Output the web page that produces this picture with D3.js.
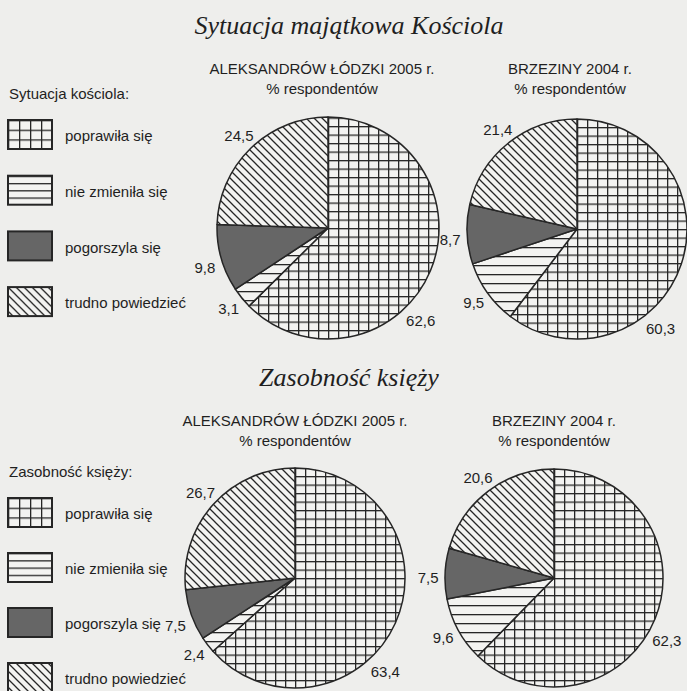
<!DOCTYPE html>
<html>
<head>
<meta charset="utf-8">
<script src="https://cdn.jsdelivr.net/npm/d3@7"></script>
<style>
  html, body { margin: 0; padding: 0; background: #eeeeec; }
  svg { display: block; }
  text { fill: #1f1f1f; font-family: "Liberation Sans", Arial, sans-serif; font-size: 15px; }
  .title { font-family: "Liberation Serif", "Times New Roman", serif; font-style: italic; font-size: 26px; }
</style>
</head>
<body>
<svg id="chart"></svg>
<script>
// data
const categories = ["poprawiła się", "nie zmieniła się", "pogorszyla się", "trudno powiedzieć"];
const sytuacjaAleksandrow = [62.6, 3.1, 9.8, 24.5];
const sytuacjaBrzeziny = [60.3, 9.5, 8.7, 21.4];
const zasobnoscAleksandrow = [63.4, 2.4, 7.5, 26.7];
const zasobnoscBrzeziny = [62.3, 9.6, 7.5, 20.6];
const sectionTitles = ["Sytuacja majątkowa Kościola", "Zasobność księży"];
const legendTitles = ["Sytuacja kościola:", "Zasobność księży:"];
const placeNames = ["ALEKSANDRÓW ŁÓDZKI 2005 r.", "BRZEZINY 2004 r."];
const unitLabel = "% respondentów";

const width = 687, height = 691;
const ink = "#262626", paper = "#f3f3f1", dark = "#666666";

const svg = d3.select("#chart").attr("width", width).attr("height", height);
svg.append("rect").attr("width", width).attr("height", height).attr("fill", "#eeeeec");

const defs = svg.append("defs");

// hatch patterns, one set for the pies and one for the legend boxes
function makePatterns(prefix, gw, gh, hs, ds) {
  const lw = 1.3;
  const grid = defs.append("pattern").attr("id", prefix + "grid")
    .attr("patternUnits", "userSpaceOnUse").attr("width", gw).attr("height", gh);
  grid.append("rect").attr("width", gw).attr("height", gh).attr("fill", paper);
  grid.append("rect").attr("width", lw).attr("height", gh).attr("fill", ink);
  grid.append("rect").attr("width", gw).attr("height", lw).attr("fill", ink);

  const hor = defs.append("pattern").attr("id", prefix + "hor")
    .attr("patternUnits", "userSpaceOnUse").attr("width", 10).attr("height", hs);
  hor.append("rect").attr("width", 10).attr("height", hs).attr("fill", paper);
  hor.append("rect").attr("width", 10).attr("height", lw).attr("fill", ink);

  const diag = defs.append("pattern").attr("id", prefix + "diag")
    .attr("patternUnits", "userSpaceOnUse").attr("width", ds).attr("height", ds);
  diag.append("rect").attr("width", ds).attr("height", ds).attr("fill", paper);
  diag.append("path")
    .attr("d", `M0,0L${ds},${ds}M${-ds / 4},${ds * 3 / 4}L${ds / 4},${ds * 5 / 4}M${ds * 3 / 4},${-ds / 4}L${ds * 5 / 4},${ds / 4}`)
    .attr("stroke", ink).attr("stroke-width", lw);
}
makePatterns("p-", 10, 8.5, 9, 8);
makePatterns("l-", 11, 29 / 3, 7.25, 8);

const fills = prefix => [`url(#${prefix}grid)`, `url(#${prefix}hor)`, dark, `url(#${prefix}diag)`];
const color = d3.scaleOrdinal().domain(categories).range(fills("p-"));
const legendColor = d3.scaleOrdinal().domain(categories).range(fills("l-"));

const fmt = v => d3.format(".1f")(v).replace(".", ",");

// section titles
svg.selectAll(".title").data(sectionTitles).enter().append("text")
  .attr("class", "title").attr("x", 349).attr("y", (d, i) => i ? 386 : 34)
  .attr("text-anchor", "middle").text(d => d);

// legends
legendTitles.forEach((t, s) => {
  const top = s ? 498 : 120, step = s ? 55 : 55.7;
  const lg = svg.append("g");
  lg.append("text").attr("x", 9).attr("y", top - 21).text(t);
  const item = lg.selectAll("g.item").data(categories).enter().append("g")
    .attr("class", "item")
    .attr("transform", (d, i) => `translate(8,${top + i * step})`);
  item.append("rect").attr("width", 44).attr("height", 29)
    .attr("fill", d => legendColor(d)).attr("stroke", ink).attr("stroke-width", 2);
  item.append("text").attr("x", 57).attr("y", 16).attr("dy", "0.35em").text(d => d);
});

// pies (mainDeg = where the big slice's value sits, clockwise from 12 o'clock)
const charts = [
  { values: sytuacjaAleksandrow, place: placeNames[0], cx: 328, cy: 228, r: 111, headX: 322, headY: 74, mainDeg: 135 },
  { values: sytuacjaBrzeziny, place: placeNames[1], cx: 577, cy: 229, r: 110, headX: 570, headY: 74, mainDeg: 140 },
  { values: zasobnoscAleksandrow, place: placeNames[0], cx: 295, cy: 578, r: 110, headX: 295, headY: 426, mainDeg: 136 },
  { values: zasobnoscBrzeziny, place: placeNames[1], cx: 554, cy: 578, r: 109, headX: 554, headY: 426, mainDeg: 119 }
];

const pie = d3.pie().sort(null).value(d => d.value);

charts.forEach(c => {
  svg.append("text").attr("x", c.headX).attr("y", c.headY).attr("text-anchor", "middle").text(c.place);
  svg.append("text").attr("x", c.headX).attr("y", c.headY + 20).attr("text-anchor", "middle").text(unitLabel);

  const rows = categories.map((k, i) => ({ key: k, value: c.values[i] }));
  const arcs = pie(rows);
  const arc = d3.arc().innerRadius(0).outerRadius(c.r);
  const g = svg.append("g").attr("transform", `translate(${c.cx},${c.cy})`);

  g.selectAll("path").data(arcs).enter().append("path")
    .attr("d", arc)
    .attr("fill", d => color(d.data.key))
    .attr("stroke", ink).attr("stroke-width", 1.5).attr("stroke-linejoin", "round");

  // value labels just outside the rim
  g.selectAll("text").data(arcs).enter().append("text")
    .attr("text-anchor", "middle").attr("dy", "0.35em")
    .attr("transform", d => {
      const a = d.index === 0 ? c.mainDeg * Math.PI / 180 : (d.startAngle + d.endAngle) / 2;
      const rr = c.r + (d.index === 0 ? 20 : 17);
      return `translate(${rr * Math.sin(a)},${-rr * Math.cos(a) + (d.index === 2 ? 5 : 0)})`;
    })
    .text(d => fmt(d.data.value));
});
</script>
</body>
</html>
